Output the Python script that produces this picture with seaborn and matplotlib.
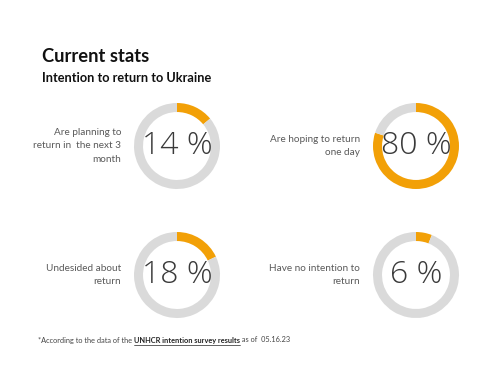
import matplotlib
matplotlib.use('Agg')
import matplotlib.pyplot as plt
import seaborn as sns

# data
labels = ['Are planning to\nreturn in  the next 3\nmonth', 'Are hoping to return\none day',
          'Undesided about\nreturn', 'Have no intention to\nreturn']
values = [14, 80, 18, 6]

sns.set_theme(style="white")
plt.rcParams['font.family'] = ['Lato', 'DejaVu Sans']

orange = '#F2A007'
grey = '#DADADA'

W, H = 500, 375
fig = plt.figure(figsize=(5, 3.75), dpi=100)

# ring centers (pixels from top-left), label right edges
centers = [(177, 146), (416, 146), (177, 275), (416, 275)]
label_x = [121, 360, 121, 360]
R = 43

for (cx, cy), lx, lab, v in zip(centers, label_x, labels, values):
    ax = fig.add_axes([(cx - R) / W, 1 - (cy + R) / H, 2 * R / W, 2 * R / H])
    ax.pie([v, 100 - v], colors=[orange, grey], startangle=90, counterclock=False,
           radius=1, wedgeprops=dict(width=0.21, linewidth=0))
    ax.set_xlim(-1, 1)
    ax.set_ylim(-1, 1)
    ax.axis('off')
    ax.text(0, 0, f'{v} %', ha='center', va='center', fontsize=23,
            color='#3a3a3a', family=['Open Sans', 'DejaVu Sans'], fontweight=300)
    fig.text(lx / W, 1 - cy / H, lab, ha='right', va='center', fontsize=7.2,
             color='#5a5a5a', linespacing=1.6)

fig.text(42 / W, 1 - 57 / H, 'Current stats', fontsize=13.2, fontweight='bold',
         color='#111111', va='center')
fig.text(42 / W, 1 - 78 / H, 'Intention to return to Ukraine', fontsize=9.2,
         fontweight='bold', color='#111111', va='center')

# footnote with underlined link part
fig.canvas.draw()
renderer = fig.canvas.get_renderer()
parts = [('*According to the data of the ', '#444444', 'normal', False),
         ('UNHCR intention survey results', '#222222', 'bold', True),
         (' as of  05.16.23', '#444444', 'normal', False)]
x = 38
y = 340
for txt, col, wt, ul in parts:
    t = fig.text(x / W, 1 - y / H, txt, fontsize=5.3, color=col, fontweight=wt, va='center')
    bb = t.get_window_extent(renderer)
    if ul:
        fig.add_artist(plt.Line2D([bb.x0 / W, bb.x1 / W], [(bb.y0 - 1) / H, (bb.y0 - 1) / H],
                                  color=col, linewidth=0.5))
    x += bb.width

plt.savefig('out.png', dpi=100)
plt.close()
